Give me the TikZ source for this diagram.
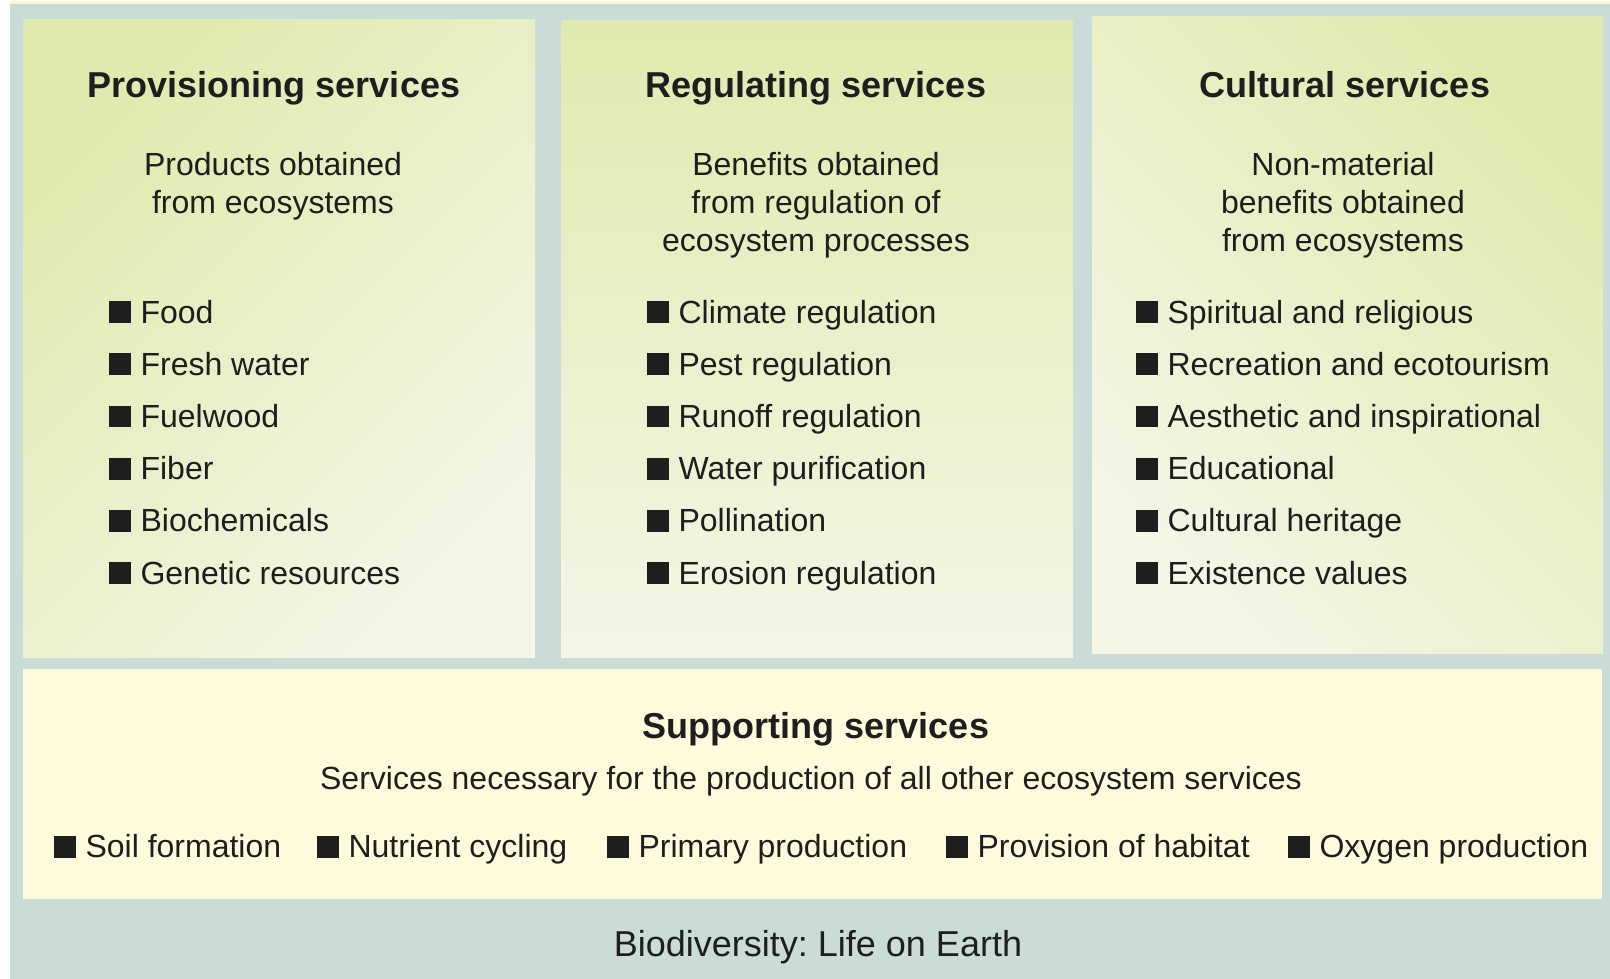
\documentclass[tikz,border=0pt]{standalone}
\usepackage{fontspec}
\setmainfont{Liberation Sans}
\frenchspacing

\definecolor{bgteal}{HTML}{C9DCD8}
\definecolor{leafgreen}{HTML}{E0EAAE}
\definecolor{leafpale}{HTML}{F4F6E6}
\definecolor{soilyellow}{HTML}{FEFBDC}
\definecolor{topstrip}{HTML}{FFF6D2}
\definecolor{ink}{HTML}{1E1E1E}

\tikzset{
  head/.style={font=\fontsize{36}{42}\selectfont\bfseries, text=ink, anchor=base, inner sep=0pt},
  blurb/.style={font=\fontsize{32}{38}\selectfont, text=ink, align=center, anchor=base, inner sep=0pt},
  item/.style={font=\fontsize{32}{38}\selectfont, text=ink, anchor=base west, inner sep=0pt},
}
\newcommand{\blob}{\rule{0.68em}{0.68em}\hspace{0.3em}}

\begin{document}
\begin{tikzpicture}[x=1pt,y=-1pt]
  % Frame
  \fill[white] (0,0) rectangle (1610,979);
  \fill[bgteal] (10,4.5) rectangle (1610,979);
  \fill[topstrip] (10,1.5) rectangle (1610,4.5);

  % Upper panels
  \fill[top color=leafgreen,bottom color=leafpale,shading angle=45] (23,20) rectangle (535,657);
  \fill[top color=leafgreen,bottom color=leafpale,shading angle=0] (561,21) rectangle (1073,657);
  \fill[top color=leafgreen,bottom color=leafpale,shading angle=-45] (1092,17) rectangle (1603,653);

  % Lower panel
  \fill[soilyellow] (23,669) rectangle (1602,899);

  % Provisioning (blurb sits on its last line)
  \node[head] (provT) at (274,98) {Provisioning services};
  \node[blurb] (provB) at (273,213.5) {Products obtained\\from ecosystems};
  \foreach \s [count=\i] in {Food,Fresh water,Fuelwood,Fiber,Biochemicals,Genetic resources}
    \node[item] (prov\i) at (109,{323+(\i-1)*52.2}) {\blob\s};

  % Regulating
  \node[head] (regT) at (816,98) {Regulating services};
  \node[blurb] (regB) at (816,251.5) {Benefits obtained\\from regulation of\\ecosystem processes};
  \foreach \s [count=\i] in {Climate regulation,Pest regulation,Runoff regulation,Water purification,Pollination,Erosion regulation}
    \node[item] (reg\i) at (647,{323+(\i-1)*52.2}) {\blob\s};

  % Cultural
  \node[head] (cultT) at (1345,98) {Cultural services};
  \node[blurb] (cultB) at (1343,251.5) {Non-material\\benefits obtained\\from ecosystems};
  \foreach \s [count=\i] in {Spiritual and religious,Recreation and ecotourism,Aesthetic and inspirational,Educational,Cultural heritage,Existence values}
    \node[item] (cult\i) at (1136,{323+(\i-1)*52.2}) {\blob\s};

  % Supporting
  \node[head] (suppT) at (816,738) {Supporting services};
  \node[blurb] (suppB) at (811,789.5) {Services necessary for the production of all other ecosystem services};
  \foreach \s/\xx [count=\i] in {Soil formation/54,Nutrient cycling/317,Primary production/607,Provision of habitat/946,Oxygen production/1288}
    \node[item] (supp\i) at (\xx,857.5) {\blob\s};

  \node[blurb,font=\fontsize{36}{42}\selectfont] (earth) at (818,956) {Biodiversity: Life on Earth};
\end{tikzpicture}
\end{document}
